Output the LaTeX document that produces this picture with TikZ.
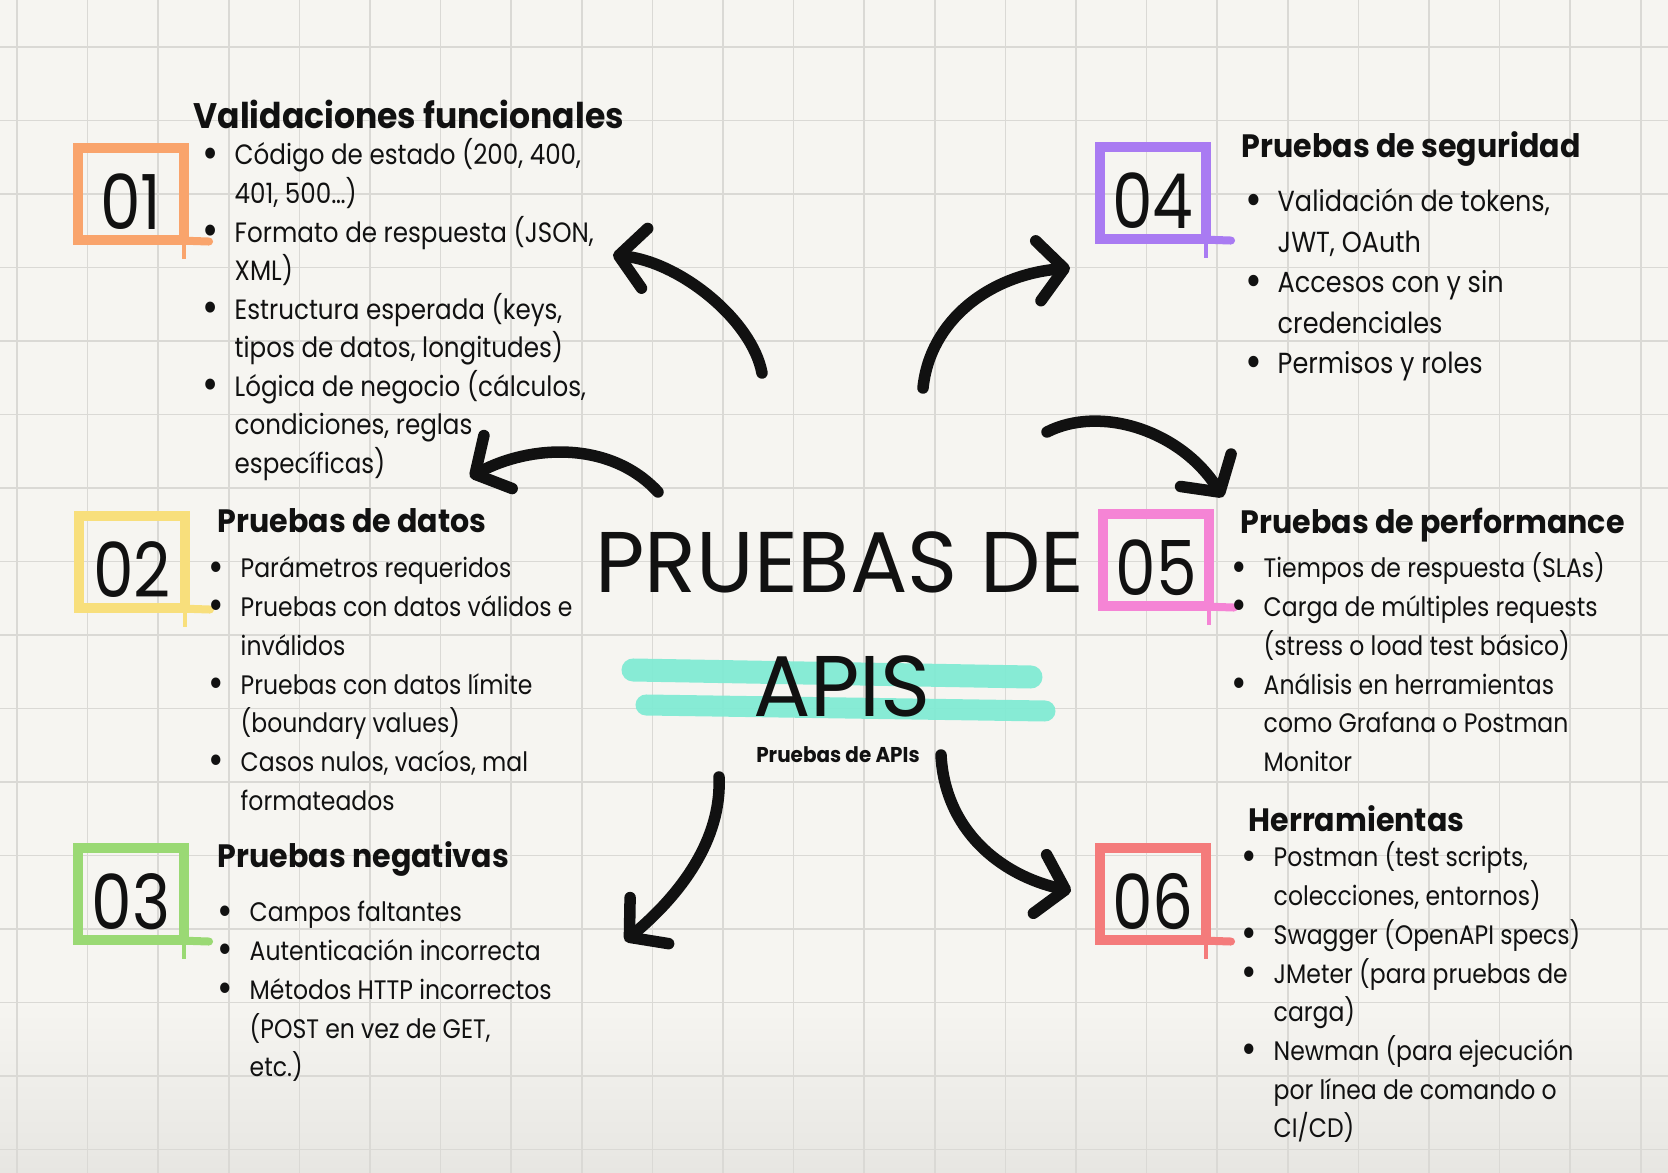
\documentclass[tikz,border=0pt]{standalone}
\usepackage{fontspec}
\setmainfont{Poppins}[FakeStretch=0.88]
\newfontfamily\negrita{Poppins}[FakeStretch=0.93]
\newfontfamily\numeros{Poppins}[FakeStretch=0.85]
\newfontfamily\grande{Poppins}[FakeStretch=0.99]
\usetikzlibrary{arrows.meta, positioning}
\definecolor{fondo}{HTML}{F6F5F1}
\definecolor{sombra}{HTML}{E7E6E2}
\definecolor{rejilla}{HTML}{DAD9D5}
\definecolor{tinta}{HTML}{111111}
\definecolor{menta}{HTML}{7CEBD3}
\definecolor{naranja}{HTML}{F9A46C}
\definecolor{amarillo}{HTML}{F8DF7C}
\definecolor{verde}{HTML}{9AD974}
\definecolor{morado}{HTML}{A97BF2}
\definecolor{rosa}{HTML}{F584D5}
\definecolor{rojo}{HTML}{F47B7B}
\newcommand{\punto}{\makebox[0.48cm][c]{\raisebox{-0.22ex}{\scalebox{1.6}{•}}}}
\newcommand{\sigue}{\hspace*{0.48cm}}

\begin{document}
\begin{tikzpicture}[x=0.01cm, y=-0.01cm,
    caja/.style={draw, line width=0.1cm, minimum width=1.06cm, minimum height=0.92cm, inner sep=0pt,
        text height=0.7cm, text depth=0pt, text=tinta, font=\numeros\fontsize{21.6}{22}\selectfont},
    titulo/.style={anchor=base west, inner sep=0pt, text=tinta, font=\negrita\fontsize{9.2}{11}\selectfont\bfseries},
    lista/.style={anchor=base west, inner sep=0pt, text=tinta, font=\fontsize{7.6}{11}\selectfont},
    flecha/.style={draw=tinta, line width=0.115cm, line cap=round, -{Straight Barb[length=0.26cm, width=0.6cm, round]}},
    resalte/.style={draw=menta, line cap=round, opacity=0.9}]
    \useasboundingbox (0,0) rectangle (1668,1173);

    % Paper and grid
    \fill[fondo] (0,0) rectangle (1668,1173);
    \fill[top color=fondo, bottom color=sombra] (0,1000) rectangle (1668,1173);
    \foreach \i in {0,...,23}
        \draw[rejilla, line width=0.015cm] ({17+70.6*\i},0) -- ({17+70.6*\i},1173);
    \foreach \j in {0,...,15}
        \draw[rejilla, line width=0.015cm] (0,{47+73.5*\j}) -- (1668,{47+73.5*\j});

    % Central title
    \draw[resalte, line width=0.23cm] (633,670) -- (1031,677);
    \draw[resalte, line width=0.21cm] (646,705) -- (1045,711);
    \node[anchor=base, inner sep=0pt, text=tinta, font=\grande\fontsize{24.5}{26}\selectfont] (tit) at (840,593) {PRUEBAS DE};
    \node[anchor=base, inner sep=0pt, text=tinta, font=\grande\fontsize{24.5}{26}\selectfont] (apis) at (842,717) {APIS};
    \node[anchor=base, inner sep=0pt, text=tinta, font=\negrita\fontsize{6.1}{7}\selectfont\bfseries] (sub) at (838,763) {Pruebas de APIs};

    % Numbered boxes
    \node[caja, draw=naranja] (b1) at (131,194) {01};
    \node[caja, draw=amarillo] (b2) at (132,562) {02};
    \node[caja, draw=verde] (b3) at (131,894) {03};
    \node[caja, draw=morado] (b4) at (1153,193) {04};
    \node[caja, draw=rosa] (b5) at (1156,560) {05};
    \node[caja, draw=rojo] (b6) at (1153,894) {06};
    \foreach \b/\c in {b1/naranja, b2/amarillo, b3/verde, b4/morado, b5/rosa, b6/rojo} {
        \draw[\c, line width=0.08cm, line cap=round] ([xshift=-0.1cm, yshift=0.045cm]\b.south east) -- ++(0.3cm,-0.01cm);
        \draw[\c, line width=0.035cm] ([xshift=-0.05cm]\b.south east) -- ++(0,-0.14cm);
    }

    % 01
    \node[titulo, font=\negrita\fontsize{10.1}{12}\selectfont\bfseries] (t1) at (193,129) {Validaciones funcionales};
    \node[lista, font=\fontsize{7.95}{10.95}\selectfont] (l1) at (186,165) {\begin{tabular}[t]{@{}l@{}}
        \punto Código de estado (200, 400,\\
        \sigue 401, 500…)\\
        \punto Formato de respuesta (JSON,\\
        \sigue XML)\\
        \punto Estructura esperada (keys,\\
        \sigue tipos de datos, longitudes)\\
        \punto Lógica de negocio (cálculos,\\
        \sigue condiciones, reglas\\
        \sigue específicas)
    \end{tabular}};

    % 02
    \node[titulo] (t2) at (217,533) {Pruebas de datos};
    \node[lista] (l2) at (192,578) {\begin{tabular}[t]{@{}l@{}}
        \punto Parámetros requeridos\\
        \punto Pruebas con datos válidos e\\
        \sigue inválidos\\
        \punto Pruebas con datos límite\\
        \sigue (boundary values)\\
        \punto Casos nulos, vacíos, mal\\
        \sigue formateados
    \end{tabular}};

    % 03
    \node[titulo] (t3) at (217,868) {Pruebas negativas};
    \node[lista] (l3) at (201,922) {\begin{tabular}[t]{@{}l@{}}
        \punto Campos faltantes\\
        \punto Autenticación incorrecta\\
        \punto Métodos HTTP incorrectos\\
        \sigue (POST en vez de GET,\\
        \sigue etc.)
    \end{tabular}};

    % 04
    \node[titulo] (t4) at (1241,158) {Pruebas de seguridad};
    \node[lista, font=\fontsize{8.25}{11.5}\selectfont] (l4) at (1229,212) {\begin{tabular}[t]{@{}l@{}}
        \punto Validación de tokens,\\
        \sigue JWT, OAuth\\
        \punto Accesos con y sin\\
        \sigue credenciales\\
        \punto Permisos y roles
    \end{tabular}};

    % 05
    \node[titulo] (t5) at (1240,534) {Pruebas de performance};
    \node[lista] (l5) at (1215,578) {\begin{tabular}[t]{@{}l@{}}
        \punto Tiempos de respuesta (SLAs)\\
        \punto Carga de múltiples requests\\
        \sigue (stress o load test básico)\\
        \punto Análisis en herramientas\\
        \sigue como Grafana o Postman\\
        \sigue Monitor
    \end{tabular}};

    % 06
    \node[titulo] (t6) at (1248,832) {Herramientas};
    \node[lista] (l6) at (1225,867) {\begin{tabular}[t]{@{}l@{}}
        \punto Postman (test scripts,\\
        \sigue colecciones, entornos)\\
        \punto Swagger (OpenAPI specs)\\
        \punto JMeter (para pruebas de\\
        \sigue carga)\\
        \punto Newman (para ejecución\\
        \sigue por línea de comando o\\
        \sigue CI/CD)
    \end{tabular}};

    % Arrow ends
    \coordinate (a1) at (762,373); \coordinate (p1) at (613,255);
    \coordinate (a2) at (658,492); \coordinate (p2) at (470,477);
    \coordinate (a3) at (719,777); \coordinate (p3) at (625,941);
    \coordinate (a4) at (923,388); \coordinate (p4) at (1070,268);
    \coordinate (a5) at (1047,432); \coordinate (p5) at (1223,497);
    \coordinate (a6) at (941,755); \coordinate (p6) at (1071,891);

    % Arrows out of the centre
    \draw[flecha] (a1) .. controls (752,320) and (680,262) .. (p1);
    \draw[flecha] (a2) .. controls (610,440) and (530,445) .. (p2);
    \draw[flecha] (a3) .. controls (722,840) and (680,895) .. (p3);
    \draw[flecha] (a4) .. controls (930,320) and (990,275) .. (p4);
    \draw[flecha] (a5) .. controls (1100,405) and (1180,430) .. (p5);
    \draw[flecha] (a6) .. controls (945,830) and (1000,875) .. (p6);
\end{tikzpicture}
\end{document}
